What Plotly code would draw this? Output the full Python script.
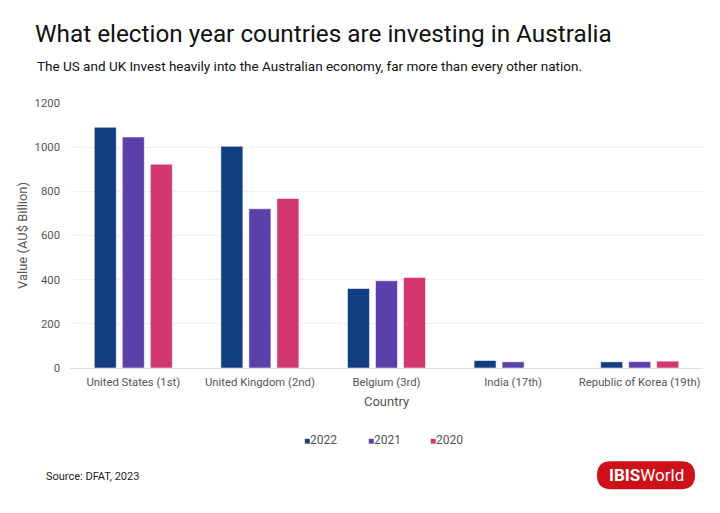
import plotly.graph_objects as go

countries = ["United States (1st)", "United Kingdom (2nd)", "Belgium (3rd)", "India (17th)", "Republic of Korea (19th)"]
years = ["2022", "2021", "2020"]
v2022 = [1090, 1004, 360, 34, 28]
v2021 = [1046, 721, 395, 28, 29]
v2020 = [923, 768, 410, None, 31]
colors = ["#113E80", "#5A40A8", "#D2376F"]
y_ticks = [0, 200, 400, 600, 800, 1000, 1200]

# page body has an 8px margin; work in target pixel coordinates and compensate
OFF = 8
W, H = 720 - OFF, 513 - OFF
L, R, T, B = 70 - OFF, 17, 103 - OFF, 144.5
pw, ph = W - L - R, H - T - B

def px2paper(x, y):
    return (x - OFF - L) / pw, (H - B - (y - OFF)) / ph

fig = go.Figure()
for yr, vals, c in zip(years, [v2022, v2021, v2020], colors):
    fig.add_trace(go.Bar(
        x=countries, y=vals, name=yr, showlegend=False,
        marker=dict(color=c, line=dict(color="rgba(255,255,255,0.55)", width=1)),
    ))

# legend entries: small coloured square glyph next to the year, one legend each
legend_x = [305, 369, 431]
legend_names = ["legend", "legend2", "legend3"]
for yr, c, lg in zip(years, colors, legend_names):
    fig.add_trace(go.Scatter(
        x=[None], y=[None], mode="markers", legend=lg,
        name=f"<span style='color:{c};font-size:10px'>■</span>{yr}",
        marker=dict(color="rgba(0,0,0,0)", size=1), hoverinfo="skip",
    ))

# IBISWorld pill logo
x0, x1, y0, y1 = 597, 695, 462, 490
r = (y1 - y0) / 2
def P(x, y):
    px, py = px2paper(x, y)
    return f"{px:.5f},{py:.5f}"
path = (f"M {P(x0 + r, y0)} L {P(x1 - r, y0)} Q {P(x1, y0)} {P(x1, y0 + r)} "
        f"Q {P(x1, y1)} {P(x1 - r, y1)} L {P(x0 + r, y1)} Q {P(x0, y1)} {P(x0, y0 + r)} "
        f"Q {P(x0, y0)} {P(x0 + r, y0)} Z")
fig.add_shape(type="path", path=path, xref="paper", yref="paper",
              fillcolor="#CC1118", line=dict(width=0), layer="above")
lx, ly = px2paper((x0 + x1) / 2, (y0 + y1) / 2)
fig.add_annotation(x=lx, y=ly, xref="paper", yref="paper", showarrow=False,
                   text="<b>IBIS</b>World", font=dict(family="Roboto", size=17, color="white"),
                   xanchor="center", yanchor="middle")

sx, sy = px2paper(44, 477)
fig.add_annotation(x=sx, y=sy, xref="paper", yref="paper", showarrow=False,
                   text="Source: DFAT, 2023", font=dict(family="Roboto", size=11, color="#222222"),
                   xanchor="left", yanchor="middle")

tx, ty = px2paper(35, 66)
fig.add_annotation(x=tx, y=ty, xref="paper", yref="paper", showarrow=False,
                   text="The US and UK Invest heavily into the Australian economy, far more than every other nation.",
                   font=dict(family="Roboto", size=13.5, color="#111111"),
                   xanchor="left", yanchor="middle")

legend_layout = {}
for lg, gx in zip(legend_names, legend_x):
    px_, py_ = px2paper(gx - 41, 440)
    legend_layout[lg] = dict(orientation="h", x=px_, xanchor="left", y=py_, yanchor="middle",
                             font=dict(size=12, color="#555555"), itemwidth=30,
                             bgcolor="rgba(0,0,0,0)")

fig.update_layout(
    width=W, height=H,
    margin=dict(l=L, r=R, t=T, b=B),
    paper_bgcolor="white", plot_bgcolor="white",
    title=dict(text="What election year countries are investing in Australia",
               x=(35 - OFF) / W, xanchor="left", y=1 - (33 - OFF) / H, yanchor="middle",
               font=dict(family="Roboto", size=24.3, color="#111111")),
    barmode="group", bargap=0.336, bargroupgap=0.214,
    font=dict(family="Roboto", color="#555555", size=12),
    xaxis=dict(title=dict(text="Country", font=dict(size=13, color="#555555"), standoff=9),
               showgrid=False, showline=True, linecolor="#DDDDDD", ticks="",
               ticklabelstandoff=3,
               tickfont=dict(size=11.3, color="#555555")),
    yaxis=dict(title=dict(text="Value (AU$ Billion)", font=dict(size=13, color="#555555"), standoff=4),
               range=[0, 1200], tickvals=y_ticks, showgrid=True, gridcolor="#F0F0F0",
               ticklabelstandoff=9,
               zeroline=False, showline=False, tickfont=dict(size=11.3, color="#555555"), ticks=""),
    **legend_layout,
)

fig.write_html("out.html")
